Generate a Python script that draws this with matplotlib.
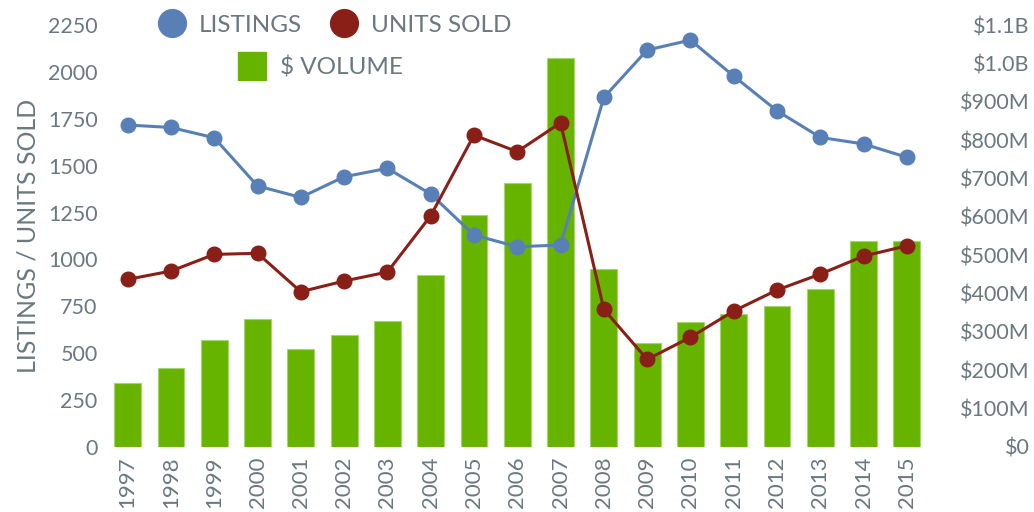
import numpy as np
import matplotlib
matplotlib.use("Agg")
import matplotlib.pyplot as plt
from matplotlib.lines import Line2D
from matplotlib.ticker import FuncFormatter

years = ["1997", "1998", "1999", "2000", "2001", "2002", "2003", "2004", "2005", "2006",
         "2007", "2008", "2009", "2010", "2011", "2012", "2013", "2014", "2015"]
listings = [1717, 1704, 1649, 1392, 1331, 1441, 1486, 1349, 1130, 1068,
            1077, 1864, 2117, 2170, 1978, 1793, 1651, 1616, 1545]
units_sold = [894, 938, 1027, 1033, 828, 885, 933, 1233, 1663, 1575,
              1729, 734, 467, 585, 725, 837, 922, 1018, 1073]
volume_m = [168, 206, 279, 334, 255, 293, 328, 449, 605, 687,
            1013, 463, 270, 327, 347, 368, 411, 536, 536]

blue = "#5880B6"
red = "#8A1F17"
green = "#67B400"
gray = "#6B787E"

plt.rcParams['font.family'] = ['Lato', 'DejaVu Sans']

fig = plt.figure(figsize=(10.34, 5.12), dpi=100)
ax = fig.add_axes([0.1025, 0.127, 0.7955, 0.824])
ax2 = ax.twinx()

x = np.arange(len(years))
ax2.bar(x, volume_m, width=0.62, color=green, edgecolor="#A5D66E", linewidth=0.8)
ax.plot(x, listings, color=blue, lw=2.2, marker="o", markersize=10.5)
ax.plot(x, units_sold, color=red, lw=2.2, marker="o", markersize=10.5)

ax.set_zorder(ax2.get_zorder() + 1)
ax.patch.set_visible(False)

ax.set_xlim(-0.5, len(years) - 0.5)
ax.set_ylim(0, 2250)
ax2.set_ylim(0, 1100)
ax.set_yticks(np.arange(0, 2251, 250))
ax2.set_yticks(np.arange(0, 1101, 100))

def money(v, pos):
    if v == 0:
        return "$0"
    if v >= 1000:
        return "$%.1fB" % (v / 1000)
    return "$%dM" % v

ax2.yaxis.set_major_formatter(FuncFormatter(money))

ax.set_xticks(x)
ax.set_xticklabels(years, rotation=90, fontsize=16, color=gray)
ax.tick_params(axis="x", length=0, pad=7)
ax.tick_params(axis="y", length=0, pad=6, labelsize=15.5, labelcolor=gray)
ax2.tick_params(axis="y", length=0, pad=73, labelsize=15.5, labelcolor=gray)
for lab in ax2.get_yticklabels():
    lab.set_horizontalalignment("right")

for a in (ax, ax2):
    for s in a.spines.values():
        s.set_visible(False)

ax.set_ylabel("LISTINGS / UNITS SOLD", fontsize=18, color=gray, labelpad=6)

h1 = Line2D([], [], marker="o", color=blue, linestyle="none", markersize=20)
h2 = Line2D([], [], marker="o", color=red, linestyle="none", markersize=20)
h3 = Line2D([], [], marker="s", color=green, linestyle="none", markersize=20)

leg1 = fig.legend(handles=[h1, h2], labels=["LISTINGS", "UNITS SOLD"], ncol=2,
                  loc="center left", bbox_to_anchor=(0.152, 0.951), frameon=False,
                  fontsize=17.5, labelcolor=gray, handletextpad=0.5, columnspacing=1.15,
                  handlelength=1.2, borderaxespad=0, borderpad=0)
leg2 = fig.legend(handles=[h3], labels=["$ VOLUME"], loc="center left",
                  bbox_to_anchor=(0.2296, 0.869), frameon=False, fontsize=17.5,
                  labelcolor=gray, handletextpad=0.55, handlelength=1.2,
                  borderaxespad=0, borderpad=0)

fig.savefig("out.png", dpi=100)
